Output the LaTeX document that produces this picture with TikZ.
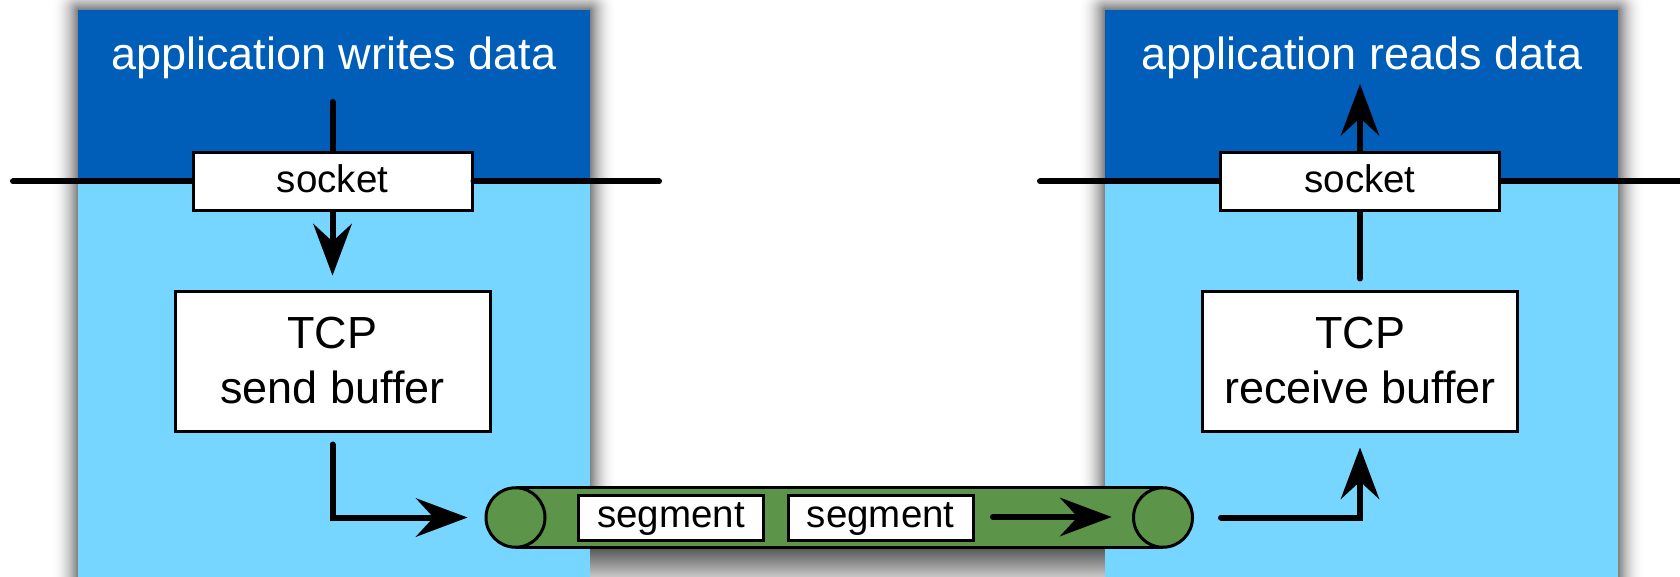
\documentclass[tikz,border=0pt]{standalone}
\usepackage{fontspec}
\setmainfont{Liberation Sans}
\usetikzlibrary{arrows.meta,shapes.geometric}
\definecolor{appblue}{RGB}{0,94,184}
\definecolor{tcpblue}{RGB}{118,214,255}
\definecolor{pipegreen}{RGB}{92,148,74}
\begin{document}
\begin{tikzpicture}[x=1pt,y=-1pt,
  whitebox/.style={draw=black, line width=3pt, fill=white, inner sep=0pt, align=center},
  sockbox/.style={whitebox, minimum width=279pt, minimum height=58pt, text height=28pt, text depth=6.5pt, font=\fontsize{38.5}{46}\selectfont},
  bufbox/.style={whitebox, minimum width=315pt, minimum height=140pt, font=\fontsize{45}{55}\selectfont},
  segbox/.style={whitebox, minimum width=185pt, minimum height=45pt, text height=27pt, text depth=8pt, font=\fontsize{38.5}{46}\selectfont},
  title/.style={anchor=base, text=white, font=\fontsize{45}{54}\selectfont, inner sep=0pt},
  pipeend/.style={ellipse, draw=black, line width=3pt, fill=pipegreen, minimum width=59pt, minimum height=59.5pt, inner sep=0pt},
  wire/.style={line width=6pt, line cap=round},
  flow/.style={wire, -{Stealth[length=52pt, width=39pt, inset=18pt, line width=0pt]}},
]
\useasboundingbox (0,0) rectangle (1680,577);

\coordinate (pipeLc) at (515.5,517.5);
\coordinate (pipeRc) at (1163,517.5);

% soft drop shadows, built from nested grey rings
\foreach \d in {26,25,...,1} {
  \pgfmathsetmacro\shk{52*(1-\d/27)^2}
  \fill[black!\shk, rounded corners=\d pt] (78-\d,10-\d) rectangle (590+\d,640);
  \fill[black!\shk, rounded corners=\d pt] (1105-\d,10-\d) rectangle (1618+\d,640);
}
\begin{scope}
  \clip (0,518) rectangle (1680,600);
  \foreach \d in {46,45,...,0} {
    \pgfmathsetmacro\shk{72*(1-\d/47)}
    \fill[black!\shk] ([xshift=-\d pt, yshift=\d pt]pipeLc |- 0,497) rectangle ([xshift=\d pt]pipeRc |- 0,545+\d);
  }
\end{scope}

% host panels: application layer on top, transport layer below
\fill[tcpblue] (78,10) rectangle (590,640);
\fill[appblue] (78,10) rectangle (590,180);
\fill[tcpblue] (1105,10) rectangle (1618,640);
\fill[appblue] (1105,10) rectangle (1618,180);

\node[title] (wtitle) at (334,70) {application writes data};
\node[title] (rtitle) at (1362,70) {application reads data};

% sockets and buffers
\node[sockbox] (lsock) at (332.5,181.5) {socket};
\node[sockbox] (rsock) at (1360,181.5) {socket};
\node[bufbox] (lsend) at (332.5,361) {TCP\\send buffer};
\node[bufbox] (rrecv) at (1360,361) {TCP\\receive buffer};

% layer boundary lines through the sockets
\coordinate (lsideA) at (13,181.5);
\coordinate (lsideB) at (659,181.5);
\coordinate (rsideA) at (1040,181.5);
\coordinate (rsideB) at (1700,181.5);
\draw[wire] (lsideA) -- (lsock.west);
\draw[wire] (lsock.east) -- (lsideB);
\draw[wire] (rsideA) -- (rsock.west);
\draw[wire] (rsock.east) -- (rsideB);

% data path on the sending side
\coordinate (lin) at (332.5,102);
\draw[wire] (lin) -- (lsock.north);
\draw[flow, shorten >=14pt] (lsock.south) -- (lsend.north);

% the pipe between the hosts
\fill[pipegreen] ([yshift=29.75pt]pipeLc) rectangle ([yshift=-29.75pt]pipeRc);
\draw[line width=3pt] ([yshift=29.75pt]pipeLc) -- ([yshift=29.75pt]pipeRc)
  ([yshift=-29.75pt]pipeLc) -- ([yshift=-29.75pt]pipeRc);
\node[pipeend] (pipeL) at (pipeLc) {};
\node[pipeend] (pipeR) at (pipeRc) {};

\node[segbox] (seg1) at (671,517.5) {segment};
\node[segbox] (seg2) at (880.7,517.5) {segment};
\coordinate (flowA) at (993,517);
\coordinate (flowB) at (1111.6,517);
\draw[flow] (flowA) -- (flowB);

\draw[flow, shorten <=12pt, shorten >=17pt] (lsend.south) |- (pipeL.west);

% data path on the receiving side
\draw[flow, shorten <=27pt, shorten >=15pt] (pipeR.east) -| (rrecv.south);
\draw[wire, shorten <=11pt] (rrecv.north) -- (rsock.south);
\coordinate (rout) at (1360,84);
\draw[flow] (rsock.north) -- (rout);
\end{tikzpicture}
\end{document}
